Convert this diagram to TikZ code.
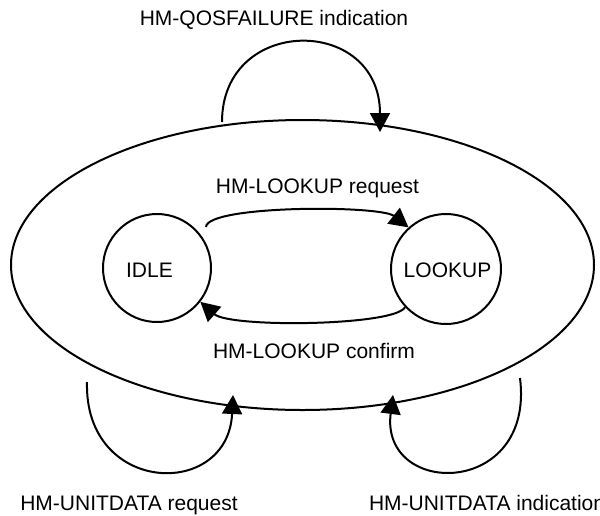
\documentclass[tikz,border=0pt]{standalone}
\usepackage{fontspec}
\setmainfont{Liberation Sans}
\usetikzlibrary{arrows.meta,shapes.geometric}
\begin{document}
\begin{tikzpicture}[x=1pt,y=-1pt,
  line width=2pt,
  txt/.style={inner sep=0pt,font=\fontsize{21}{25}\selectfont},
  state/.style={circle,draw,inner sep=0pt,minimum size=#1},
  arr/.style={-{Triangle[length=19pt,width=20pt]}}]
\useasboundingbox (0,0) rectangle (600,515);
\node[ellipse,draw,inner sep=0pt,minimum width=583pt,minimum height=290pt] (outer) at (302.5,265) {};
\node[state=108pt] (idle) at (157,268) {};
\node[state=110pt] (lookup) at (446,269) {};
\node[txt,anchor=base] (idlet) at (149.5,277) {IDLE};
\node[txt,anchor=base] (lookupt) at (447.5,277) {LOOKUP};
\node[txt,anchor=base] (qos) at (274,25) {HM-QOSFAILURE indication};
\node[txt,anchor=base] (lreq) at (317.5,193) {HM-LOOKUP request};
\node[txt,anchor=base] (lconf) at (314,358) {HM-LOOKUP confirm};
\node[txt,anchor=base] (ureq) at (129,510) {HM-UNITDATA request};
\node[txt,anchor=base west] (uind) at (368,510) {HM-UNITDATA indication};
% loop end points on the outer state
\coordinate (qs) at (222,122);
\coordinate (qe) at (380,132);
\coordinate (rs) at (206,227);
\coordinate (urs) at (87,382);
\coordinate (ure) at (233,395);
\coordinate (uis) at (520,378);
\coordinate (uie) at (393,395);
\draw[arr] (qs) .. controls (222,15) and (380,15) .. (qe);
\draw[arr] (rs) .. controls (207,205) and (380,205) .. (lookup.132);
\draw[arr] (lookup.223) .. controls (395,326) and (230,328) .. (idle.-38);
\draw[arr] (urs) .. controls (84,495) and (228,500) .. (ure);
\draw[arr] (uis) .. controls (535,498) and (380,498) .. (uie);
\end{tikzpicture}
\end{document}
